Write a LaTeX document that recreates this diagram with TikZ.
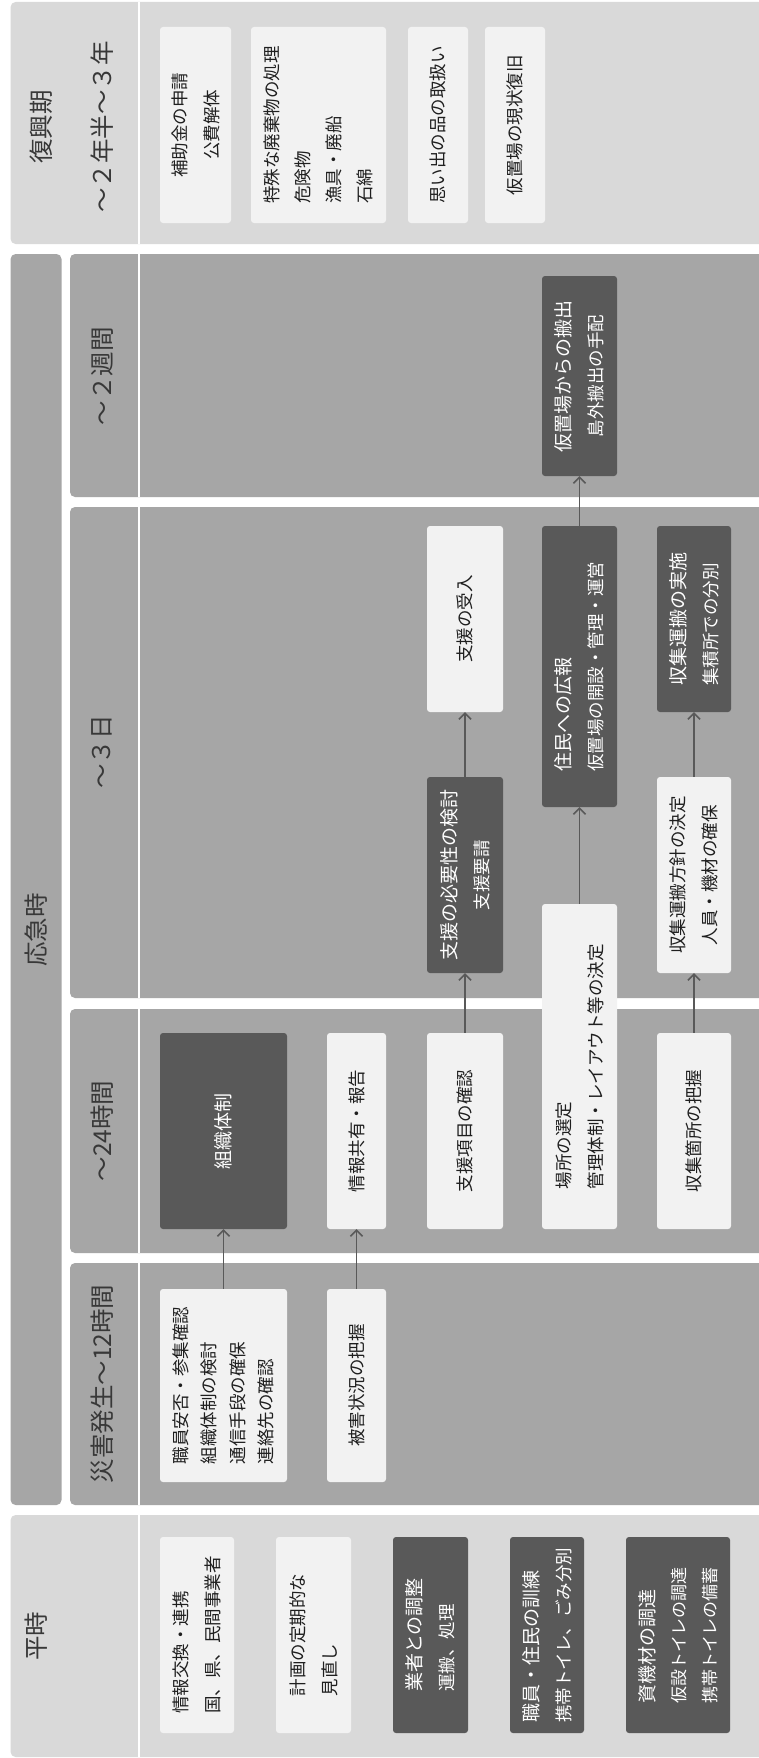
\documentclass[tikz,border=0pt]{standalone}
\usepackage{fontspec}
\setmainfont{Noto Sans CJK JP}
\usetikzlibrary{arrows.meta}
\definecolor{panelA}{HTML}{A6A6A6}
\definecolor{panelB}{HTML}{D9D9D9}
\definecolor{boxL}{HTML}{F2F2F2}
\definecolor{boxD}{HTML}{595959}
\definecolor{txt}{HTML}{1F1F1F}
\definecolor{labc}{HTML}{383838}
\definecolor{arrc}{HTML}{595959}
\newcommand\ttl[1]{{\fontsize{19pt}{32pt}\selectfont #1}}
\begin{document}
\begin{tikzpicture}[x=1pt,y=-1pt,
  panA/.style={fill=panelA, rounded corners=5pt},
  panB/.style={fill=panelB, rounded corners=5pt},
  divl/.style={draw=white, line width=2pt},
  bxbase/.style={rotate=90, inner sep=0pt, rounded corners=3pt, align=center,
     font=\fontsize{17.5pt}{32pt}\selectfont},
  lbox/.style={bxbase, fill=boxL, text=txt},
  dbox/.style={bxbase, fill=boxD, text=white, font=\fontsize{17.5pt}{32pt}\selectfont},
  lab/.style={rotate=90, text=labc, font=\fontsize{24.5pt}{28pt}\selectfont, inner sep=0pt},
  arr/.style={draw=arrc, line width=1.6pt, -{Straight Barb[length=6pt,width=12pt]}}
]
\useasboundingbox (0,0) rectangle (759,1758);
\clip (0,0) rectangle (759,1758);
\fill[white] (0,0) rectangle (759,1758);

% ---------- panels ----------
\fill[panB] (10.6,2) rectangle (770,244);
\draw[divl] (139,2) -- (139,244);

\fill[panA] (10.6,254) rectangle (61.5,1505);

\fill[panA] (70,254) rectangle (770,497);
\draw[divl] (139,254) -- (139,497);
\fill[panA] (70,507) rectangle (770,998);
\draw[divl] (139,507) -- (139,998);
\fill[panA] (70,1009) rectangle (770,1253);
\draw[divl] (139,1009) -- (139,1253);
\fill[panA] (70,1263) rectangle (770,1505);
\draw[divl] (139,1263) -- (139,1505);

\fill[panB] (10.6,1515) rectangle (770,1757);
\draw[divl] (139,1515) -- (139,1757);

% ---------- labels ----------
\node[lab] (lfk) at (41,127) {復興期};
\node[lab] (lfk2) at (102,127) {～２年半～３年};
\node[lab] (lok) at (36,930) {応急時};
\node[lab] (l2w) at (102,376) {～２週間};
\node[lab] (l3d) at (102,752) {～３日};
\node[lab] (l24) at (102,1131) {～24時間};
\node[lab] (l12) at (102,1384) {災害発生～12時間};
\node[lab] (lhj) at (36,1636) {平時};

% ---------- 復興期 ----------
\node[lbox, minimum width=196pt, minimum height=71pt] (r1) at (195.5,125) {補助金の申請\\公費解体};
\node[lbox, minimum width=196pt, minimum height=135pt, align=left, font=\fontsize{17.5pt}{31pt}\selectfont] (r2) at (318.5,125) {特殊な廃棄物の処理\\危険物\\漁具・廃船\\石綿};
\node[lbox, minimum width=196pt, minimum height=60pt] (r3) at (438,125) {思い出の品の取扱い};
\node[lbox, minimum width=196pt, minimum height=60pt] (r4) at (515,125) {仮置場の現状復旧};

% ---------- ～2週間 ----------
\node[dbox, minimum width=200pt, minimum height=75pt] (hanshutsu) at (579.5,376) {\ttl{仮置場からの搬出}\\島外搬出の手配};

% ---------- ～3日 ----------
\node[lbox, minimum width=186pt, minimum height=76pt] (ukeire) at (465,619) {支援の受入};
\node[dbox, minimum width=281pt, minimum height=75pt, align=left] (juumin) at (579.5,666.5) {\ttl{住民への広報}\\仮置場の開設・管理・運営};
\node[dbox, minimum width=186pt, minimum height=74pt, align=left] (jisshi) at (694,619) {\ttl{収集運搬の実施}\\集積所での分別};
\node[dbox, minimum width=196pt, minimum height=76pt] (hitsuyou) at (465,875) {\ttl{支援の必要性の検討}\\支援要請};
\node[lbox, minimum width=196pt, minimum height=74pt] (houshin) at (694,875) {収集運搬方針の決定\\人員・機材の確保};

% ---------- ～24時間 ----------
\node[dbox, minimum width=196pt, minimum height=127pt, font=\fontsize{19pt}{30pt}\selectfont] (soshiki) at (223.5,1131) {組織体制};
\node[lbox, minimum width=196pt, minimum height=59pt] (kyouyuu) at (356.5,1131) {情報共有・報告};
\node[lbox, minimum width=196pt, minimum height=76pt] (koumoku) at (465,1131) {支援項目の確認};
\node[lbox, minimum width=325pt, minimum height=75pt, align=left] (basho) at (579.5,1066.5) {場所の選定\\管理体制・レイアウト等の決定};
\node[lbox, minimum width=196pt, minimum height=74pt] (kasho) at (694,1131) {収集箇所の把握};

% ---------- 災害発生～12時間 ----------
\node[lbox, minimum width=193pt, minimum height=127pt, align=left, font=\fontsize{17.5pt}{28.5pt}\selectfont] (anpi) at (223.5,1385.5) {職員安否・参集確認\\組織体制の検討\\通信手段の確保\\連絡先の確認};
\node[lbox, minimum width=193pt, minimum height=59pt] (higai) at (356.5,1385.5) {被害状況の把握};

% ---------- 平時 ----------
\node[lbox, minimum width=196pt, minimum height=74pt, align=left] (h1) at (197,1635) {情報交換・連携\\国、県、民間事業者};
\node[lbox, minimum width=196pt, minimum height=75pt, align=left] (h2) at (313.5,1635) {計画の定期的な\\見直し};
\node[dbox, minimum width=196pt, minimum height=75pt, align=left] (h3) at (430.5,1635) {\ttl{業者との調整}\\運搬、処理};
\node[dbox, minimum width=196pt, minimum height=74pt, align=left] (h4) at (547,1635) {\ttl{職員・住民の訓練}\\携帯トイレ、ごみ分別};
\node[dbox, minimum width=196pt, minimum height=104pt, align=left, font=\fontsize{17pt}{31pt}\selectfont] (h5) at (678,1635) {\ttl{資機材の調達}\\仮設トイレの調達\\携帯トイレの備蓄};

% ---------- arrows ----------
\draw[arr] (anpi.east) -- (soshiki.west);
\draw[arr] (higai.east) -- (kyouyuu.west);
\draw[arr] (koumoku.east) -- (hitsuyou.west);
\draw[arr] (hitsuyou.east) -- (ukeire.west);
\draw[arr] (basho.east) -- (juumin.west);
\draw[arr] (juumin.east) -- (hanshutsu.west);
\draw[arr] (kasho.east) -- (houshin.west);
\draw[arr] (houshin.east) -- (jisshi.west);
\end{tikzpicture}
\end{document}
